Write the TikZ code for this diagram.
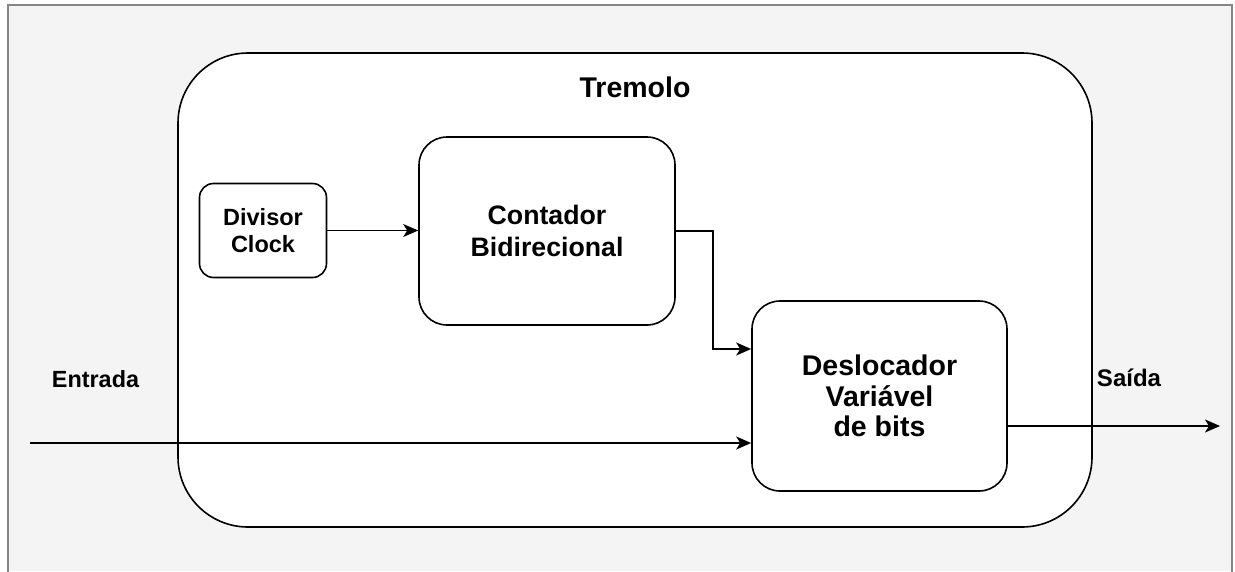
\documentclass[tikz,border=0pt]{standalone}
\usepackage{fontspec}
\setmainfont{Liberation Sans}
\usetikzlibrary{arrows.meta}
\definecolor{bgfill}{HTML}{F4F4F4}
\definecolor{framegray}{HTML}{858585}
\tikzset{
  blk/.style={draw, line width=1.6pt, fill=white, align=center, inner sep=0pt, font=\bfseries},
  arr/.style={line width=1.6pt, -{Stealth[length=15pt, width=13pt, inset=4pt]}},
  lbl/.style={anchor=base, inner sep=0pt, font=\bfseries},
}
\begin{document}
\begin{tikzpicture}[x=1pt, y=-1pt]
  \useasboundingbox (0,0) rectangle (1235,571);
  % page background and frame
  \fill[bgfill] (8,5) rectangle (1232,571);
  \draw[framegray, line width=1.5pt] (8,575) -- (8,5) -- (1232,5) -- (1232,575);

  % Tremolo container
  \draw[line width=1.6pt, fill=white, rounded corners=70pt] (178,53) rectangle (1092,527);
  \node[lbl, font=\fontsize{28.5}{32}\selectfont\bfseries] (trem) at (635,97) {Tremolo};

  % blocks
  \node[blk, minimum width=127pt, minimum height=94pt, rounded corners=14pt,
        font=\fontsize{23.5}{27}\selectfont\bfseries] (div) at (263,230.5) {Divisor\\Clock};
  \node[blk, minimum width=256pt, minimum height=188pt, rounded corners=28pt,
        font=\fontsize{26.7}{32}\selectfont\bfseries] (cont) at (547,231) {Contador\\Bidirecional};
  \node[blk, minimum width=255pt, minimum height=190pt, rounded corners=28pt,
        font=\fontsize{28.5}{30.5}\selectfont\bfseries] (desl) at (879.5,396) {Deslocador\\Variável\\de bits};

  % outer labels
  \node[lbl, font=\fontsize{23.4}{27}\selectfont\bfseries] (ent) at (95.5,387) {Entrada};
  \node[lbl, font=\fontsize{24}{27}\selectfont\bfseries] (sai) at (1129,386) {Saída};

  % connectors
  \coordinate (bend) at (713,349);
  \coordinate (inp) at (30,443);
  \coordinate (outp) at (1220,426);
  \draw[arr] (div.east) -- (div.east -| cont.west);
  \draw[arr] (cont.east) -| (bend) -- (bend -| desl.west);
  \draw[arr] (inp) -- (inp -| desl.west);
  \draw[arr] (outp -| desl.east) -- (outp);
\end{tikzpicture}
\end{document}
